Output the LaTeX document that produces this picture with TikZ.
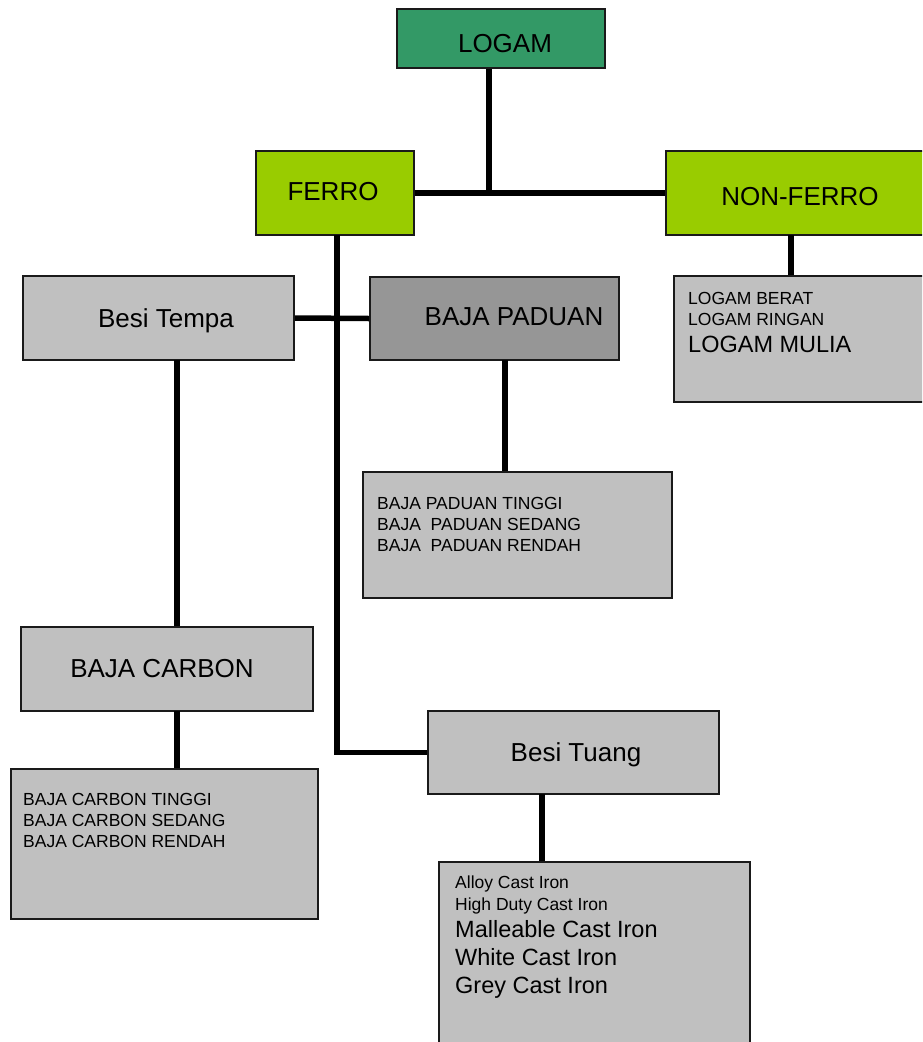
\documentclass[tikz,border=0pt]{standalone}
\usepackage{fontspec}
\setmainfont{Liberation Sans}
\definecolor{cLogam}{HTML}{339966}
\definecolor{cLime}{HTML}{99CC00}
\definecolor{cGray}{HTML}{C0C0C0}
\definecolor{cDark}{HTML}{969696}
\definecolor{cEdge}{HTML}{1A1A1A}
\tikzset{
  box/.style={draw=cEdge, line width=1.8pt, inner sep=0pt, rectangle},
  conn/.style={draw=black, line width=5.5pt},
  big/.style={anchor=base, inner sep=0pt, font=\fontsize{26}{30}\selectfont},
  small/.style={anchor=base west, inner sep=0pt, font=\fontsize{17.5}{20}\selectfont},
  large/.style={anchor=base west, inner sep=0pt, font=\fontsize{23.5}{27}\selectfont}
}
\begin{document}
\begin{tikzpicture}[x=1pt,y=-1pt]
\useasboundingbox (0,0) rectangle (922,1042);
\fill[white] (0,0) rectangle (922,1042);
\clip (0,0) rectangle (922,1042);

% boxes
\node[box, fill=cLogam, minimum width=208pt, minimum height=59pt] (logam) at (501,38.5) {};
\node[box, fill=cLime, minimum width=158pt, minimum height=84pt] (ferro) at (335,193) {};
\node[box, fill=cLime, minimum width=268pt, minimum height=84pt] (nonferro) at (800,193) {};
\node[box, fill=cGray, minimum width=271pt, minimum height=84pt] (tempa) at (158.5,318) {};
\node[box, fill=cDark, minimum width=249pt, minimum height=83pt] (paduan) at (494.5,318.5) {};
\node[box, fill=cGray, minimum width=260pt, minimum height=126pt] (logamlist) at (804,339) {};
\node[box, fill=cGray, minimum width=309pt, minimum height=126pt] (paduanlist) at (517.5,535) {};
\node[box, fill=cGray, minimum width=292pt, minimum height=84pt] (carbon) at (167,669) {};
\node[box, fill=cGray, minimum width=307pt, minimum height=150pt] (carbonlist) at (164.5,844) {};
\node[box, fill=cGray, minimum width=291pt, minimum height=83pt] (tuang) at (573.5,752.5) {};
\node[box, fill=cGray, minimum width=311pt, minimum height=200pt] (tuanglist) at (594.5,962) {};

% junction coordinates
\coordinate (j1) at (489,193);
\coordinate (fx) at (337,235);

% connectors
\draw[conn] (j1 |- logam.south) -- (j1);
\draw[conn] (ferro.east) -- (nonferro.west);
\draw[conn] (fx) |- (tuang.west);
\draw[conn] (tempa.east) -- (paduan.west);
\draw[conn] (177,360) coordinate (t1) -- (t1 |- carbon.north);
\draw[conn] (177,711) coordinate (c1) -- (c1 |- carbonlist.north);
\draw[conn] (505,360) coordinate (p1) -- (p1 |- paduanlist.north);
\draw[conn] (791,235) coordinate (n1) -- (n1 |- logamlist.north);
\draw[conn] (542,794) coordinate (b1) -- (b1 |- tuanglist.north);

% titles
\node[big] (tLogam) at (505,52) {LOGAM};
\node[big] (tFerro) at (333,200) {FERRO};
\node[big] (tNon) at (800,205) {NON-FERRO};
\node[big] (tTempa) at (166,327) {Besi Tempa};
\node[big] (tPaduan) at (514,325) {BAJA PADUAN};
\node[big] (tCarbon) at (162,677) {BAJA CARBON};
\node[big] (tTuang) at (576,761) {Besi Tuang};

% lists
\node[small] (l1) at (688,304) {LOGAM BERAT};
\node[small] (l2) at (688,325) {LOGAM RINGAN};
\node[large] (l3) at (688,352) {LOGAM MULIA};

\node[small] (p1t) at (377,509) {BAJA PADUAN TINGGI};
\node[small] (p2t) at (377,530) {BAJA~~PADUAN SEDANG};
\node[small] (p3t) at (377,551) {BAJA~~PADUAN RENDAH};

\node[small] (c1t) at (23,805) {BAJA CARBON TINGGI};
\node[small] (c2t) at (23,826) {BAJA CARBON SEDANG};
\node[small] (c3t) at (23,847) {BAJA CARBON RENDAH};

\node[small] (i1) at (455,888) {Alloy Cast Iron};
\node[small] (i2) at (455,910) {High Duty Cast Iron};
\node[large] (i3) at (455,937) {Malleable Cast Iron};
\node[large] (i4) at (455,965) {White Cast Iron};
\node[large] (i5) at (455,993) {Grey Cast Iron};
\end{tikzpicture}
\end{document}
